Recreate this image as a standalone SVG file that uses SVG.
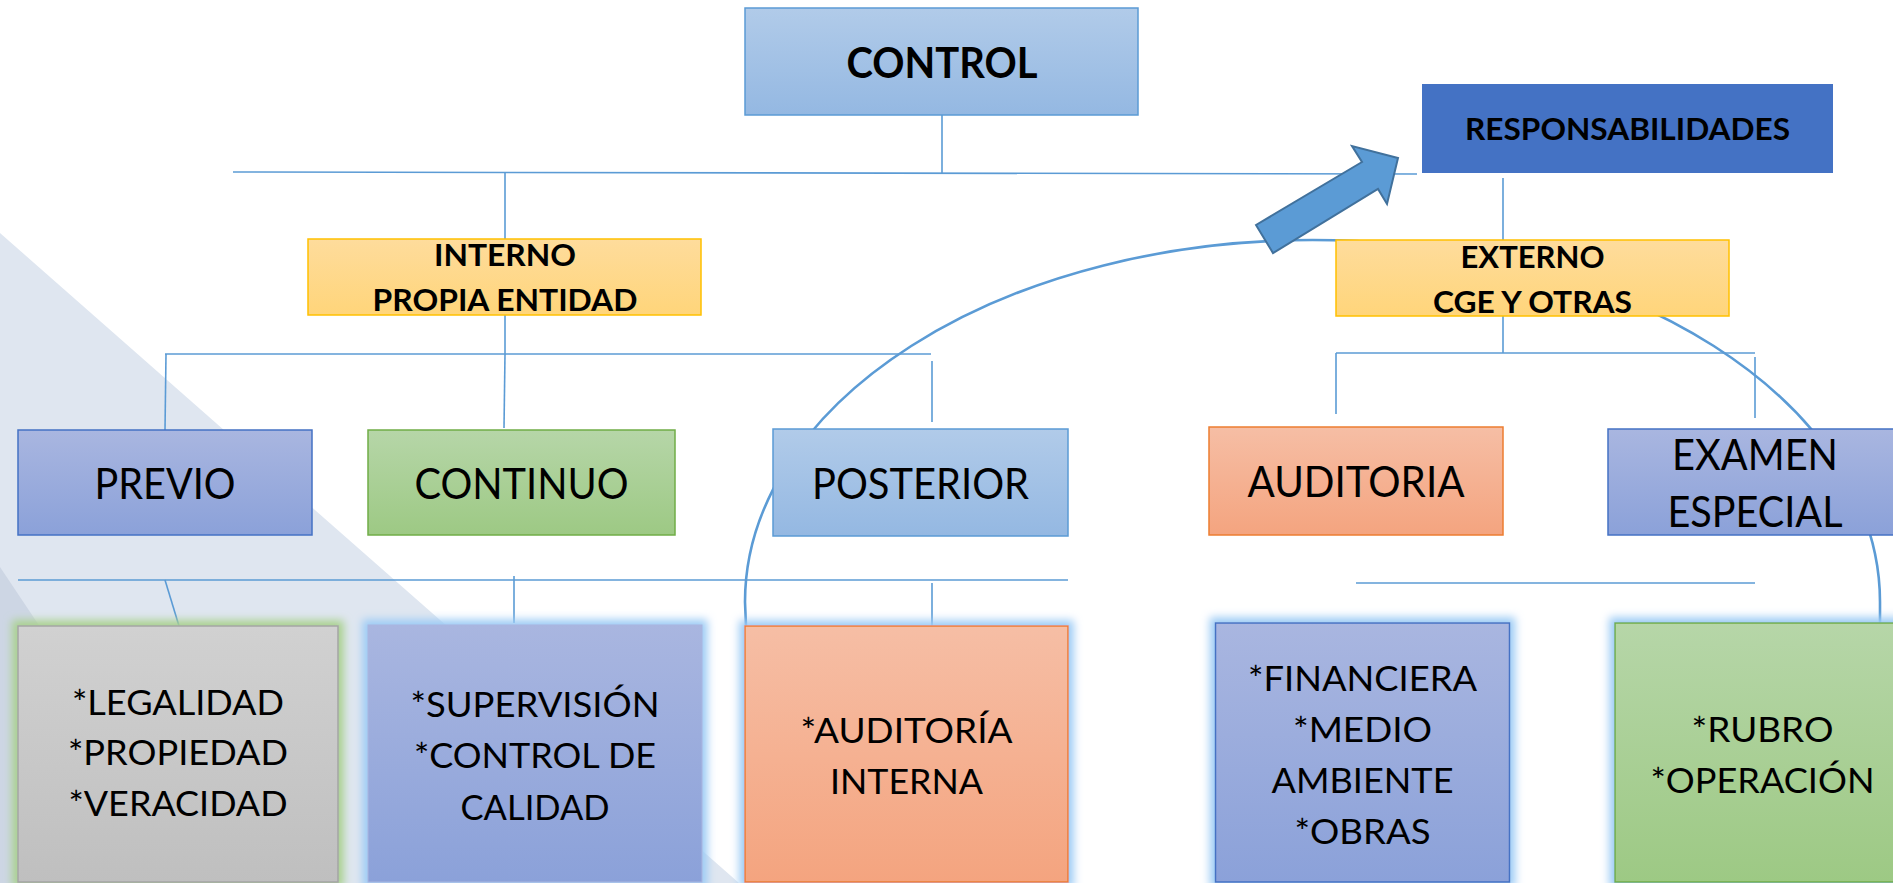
<svg xmlns="http://www.w3.org/2000/svg" width="1893" height="883" viewBox="0 0 1893 883">
<defs>
<style>
.ln{fill:none;stroke:#5B9BD5;stroke-width:1.6}
.arc{fill:none;stroke:#5B9BD5;stroke-width:2.6}
.t{font-family:Lato,"Liberation Sans",sans-serif;fill:#000;text-anchor:middle}
.b{font-weight:bold}
.r2{font-size:43px}
.r3{font-size:35px}
.lb{font-size:31px}
</style>
<linearGradient id="gBlue" x1="0" y1="0" x2="0" y2="1"><stop offset="0" stop-color="#B1CBE9"/><stop offset="1" stop-color="#94B8E2"/></linearGradient>
<linearGradient id="gGold" x1="0" y1="0" x2="0" y2="1"><stop offset="0" stop-color="#FEDC9C"/><stop offset="1" stop-color="#FFD57A"/></linearGradient>
<linearGradient id="gPurple" x1="0" y1="0" x2="0" y2="1"><stop offset="0" stop-color="#A9B6E0"/><stop offset="1" stop-color="#8BA1D9"/></linearGradient>
<linearGradient id="gGreen" x1="0" y1="0" x2="0" y2="1"><stop offset="0" stop-color="#B6D6A8"/><stop offset="1" stop-color="#9DC984"/></linearGradient>
<linearGradient id="gOrange" x1="0" y1="0" x2="0" y2="1"><stop offset="0" stop-color="#F6BEA5"/><stop offset="1" stop-color="#F4A47F"/></linearGradient>
<linearGradient id="gGray" x1="0" y1="0" x2="0" y2="1"><stop offset="0" stop-color="#D1D1D1"/><stop offset="1" stop-color="#BFBFBF"/></linearGradient>
<filter id="glowBlue" x="-10%" y="-10%" width="120%" height="120%">
<feMorphology in="SourceAlpha" operator="dilate" radius="5" result="d"/>
<feGaussianBlur in="d" stdDeviation="4" result="bl"/>
<feFlood flood-color="#9CCBF5"/>
<feComposite in2="bl" operator="in" result="g"/>
<feMerge><feMergeNode in="g"/><feMergeNode in="SourceGraphic"/></feMerge>
</filter>
<filter id="glowGreen" x="-10%" y="-10%" width="120%" height="120%">
<feMorphology in="SourceAlpha" operator="dilate" radius="5" result="d"/>
<feGaussianBlur in="d" stdDeviation="4" result="bl"/>
<feFlood flood-color="#A9D18E"/>
<feComposite in2="bl" operator="in" result="g"/>
<feMerge><feMergeNode in="g"/><feMergeNode in="SourceGraphic"/></feMerge>
</filter>
</defs>
<rect width="1893" height="883" fill="#FFFFFF"/>
<g id="background">
<polygon points="0,233 739,883 0,883" fill="#DFE6F0"/>
<polygon points="0,567 211,883 0,883" fill="#CDD6E4"/>
</g>
<g id="connectors">
<line class="ln" x1="942" y1="115" x2="942" y2="173"/>
<line class="ln" x1="233" y1="172" x2="1417" y2="174"/>
<line class="ln" x1="505" y1="173" x2="505" y2="239"/>
<line class="ln" x1="1503" y1="178" x2="1503" y2="240"/>
<line class="ln" x1="505" y1="315" x2="505" y2="354"/>
<line class="ln" x1="165" y1="354" x2="931" y2="354"/>
<line class="ln" x1="166" y1="354" x2="165" y2="430"/>
<line class="ln" x1="505" y1="354" x2="504" y2="428"/>
<line class="ln" x1="932" y1="361" x2="932" y2="422"/>
<line class="ln" x1="1503" y1="316" x2="1503" y2="353"/>
<line class="ln" x1="1336" y1="353" x2="1755" y2="353"/>
<line class="ln" x1="1336" y1="353" x2="1336" y2="414"/>
<line class="ln" x1="1755" y1="357" x2="1755" y2="418"/>
<line class="ln" x1="18" y1="580" x2="1068" y2="580"/>
<line class="ln" x1="165" y1="580" x2="179" y2="626"/>
<line class="ln" x1="514" y1="576" x2="514" y2="623"/>
<line class="ln" x1="932" y1="583" x2="932" y2="628"/>
<line class="ln" x1="1356" y1="583" x2="1755" y2="583"/>
<path class="arc" d="M746 626 L745 602 A567.5 362 0 0 1 1880 602 L1880 623"/>
</g>
<g id="control">
<rect x="745" y="8" width="393" height="107" fill="url(#gBlue)" stroke="#5B9BD5" stroke-width="1.5"/>
<text class="t b" x="942" y="78" font-size="42" textLength="191" lengthAdjust="spacingAndGlyphs">CONTROL</text>
</g>
<g id="responsabilidades">
<rect x="1422" y="84" width="411" height="89" fill="#4472C4"/>
<text class="t b lb" x="1627.5" y="140" textLength="325" lengthAdjust="spacingAndGlyphs">RESPONSABILIDADES</text>
</g>
<g id="interno">
<rect x="308" y="239" width="393" height="76" fill="url(#gGold)" stroke="#FFC000" stroke-width="1.5"/>
<text class="t b lb" x="505" y="266" textLength="142" lengthAdjust="spacingAndGlyphs">INTERNO</text>
<text class="t b lb" x="505" y="311" textLength="265" lengthAdjust="spacingAndGlyphs">PROPIA ENTIDAD</text>
</g>
<g id="externo">
<rect x="1336" y="240" width="393" height="76" fill="url(#gGold)" stroke="#FFC000" stroke-width="1.5"/>
<text class="t b lb" x="1532.5" y="268" textLength="144" lengthAdjust="spacingAndGlyphs">EXTERNO</text>
<text class="t b lb" x="1532.5" y="313" textLength="199" lengthAdjust="spacingAndGlyphs">CGE Y OTRAS</text>
</g>
<g id="previo">
<rect x="18" y="430" width="294" height="105" fill="url(#gPurple)" stroke="#4472C4" stroke-width="1.5"/>
<text class="t r2" x="165" y="499" textLength="141" lengthAdjust="spacingAndGlyphs">PREVIO</text>
</g>
<g id="continuo">
<rect x="368" y="430" width="307" height="105" fill="url(#gGreen)" stroke="#70AD47" stroke-width="1.5"/>
<text class="t r2" x="521.5" y="499" textLength="214" lengthAdjust="spacingAndGlyphs">CONTINUO</text>
</g>
<g id="posterior">
<rect x="773" y="429" width="295" height="107" fill="url(#gBlue)" stroke="#5B9BD5" stroke-width="1.5"/>
<text class="t r2" x="920.5" y="499" textLength="217" lengthAdjust="spacingAndGlyphs">POSTERIOR</text>
</g>
<g id="auditoria">
<rect x="1209" y="427" width="294" height="108" fill="url(#gOrange)" stroke="#ED7D31" stroke-width="1.5"/>
<text class="t r2" x="1356" y="497" textLength="217" lengthAdjust="spacingAndGlyphs">AUDITORIA</text>
</g>
<g id="examen">
<rect x="1608" y="429" width="300" height="106" fill="url(#gPurple)" stroke="#4472C4" stroke-width="1.5"/>
<text class="t r2" x="1755" y="470" textLength="166" lengthAdjust="spacingAndGlyphs">EXAMEN</text>
<text class="t r2" x="1755" y="527" textLength="175" lengthAdjust="spacingAndGlyphs">ESPECIAL</text>
</g>
<g id="legalidad">
<rect x="18" y="626" width="320" height="256" fill="url(#gGray)" stroke="#A5A5A5" stroke-width="1.5" filter="url(#glowGreen)"/>
<text class="t r3" x="178" y="715" textLength="212" lengthAdjust="spacingAndGlyphs">*LEGALIDAD</text>
<text class="t r3" x="178" y="765" textLength="220" lengthAdjust="spacingAndGlyphs">*PROPIEDAD</text>
<text class="t r3" x="178" y="816" textLength="219" lengthAdjust="spacingAndGlyphs">*VERACIDAD</text>
</g>
<g id="supervision">
<rect x="368" y="625" width="334" height="257" fill="url(#gPurple)" stroke="#A9B6E0" stroke-width="1" filter="url(#glowBlue)"/>
<text class="t r3" x="535" y="717" textLength="249" lengthAdjust="spacingAndGlyphs">*SUPERVISIÓN</text>
<text class="t r3" x="535" y="768" textLength="242" lengthAdjust="spacingAndGlyphs">*CONTROL DE</text>
<text class="t r3" x="535" y="820" textLength="149" lengthAdjust="spacingAndGlyphs">CALIDAD</text>
</g>
<g id="auditoria-interna">
<rect x="745" y="626" width="323" height="256" fill="url(#gOrange)" stroke="#ED7D31" stroke-width="1.5" filter="url(#glowBlue)"/>
<text class="t r3" x="906.5" y="743" textLength="212" lengthAdjust="spacingAndGlyphs">*AUDITORÍA</text>
<text class="t r3" x="906.5" y="794" textLength="153" lengthAdjust="spacingAndGlyphs">INTERNA</text>
</g>
<g id="financiera">
<rect x="1215.5" y="623" width="294" height="259" fill="url(#gPurple)" stroke="#4472C4" stroke-width="1.5" filter="url(#glowBlue)"/>
<text class="t r3" x="1362.5" y="691" textLength="229" lengthAdjust="spacingAndGlyphs">*FINANCIERA</text>
<text class="t r3" x="1362.5" y="742" textLength="139" lengthAdjust="spacingAndGlyphs">*MEDIO</text>
<text class="t r3" x="1362.5" y="793" textLength="182" lengthAdjust="spacingAndGlyphs">AMBIENTE</text>
<text class="t r3" x="1362.5" y="844" textLength="136" lengthAdjust="spacingAndGlyphs">*OBRAS</text>
</g>
<g id="rubro">
<rect x="1615" y="623" width="295" height="259" fill="url(#gGreen)" stroke="#70AD47" stroke-width="1.5" filter="url(#glowBlue)"/>
<text class="t r3" x="1762.5" y="742" textLength="142" lengthAdjust="spacingAndGlyphs">*RUBRO</text>
<text class="t r3" x="1762.5" y="793" textLength="224" lengthAdjust="spacingAndGlyphs">*OPERACIÓN</text>
</g>
<g id="arrow">
<polygon points="1256,225 1273,253 1378,189 1387,204 1398,158 1352,146 1362,162" fill="#5B9BD5" stroke="#41719C" stroke-width="2" stroke-linejoin="miter"/>
</g>
</svg>
